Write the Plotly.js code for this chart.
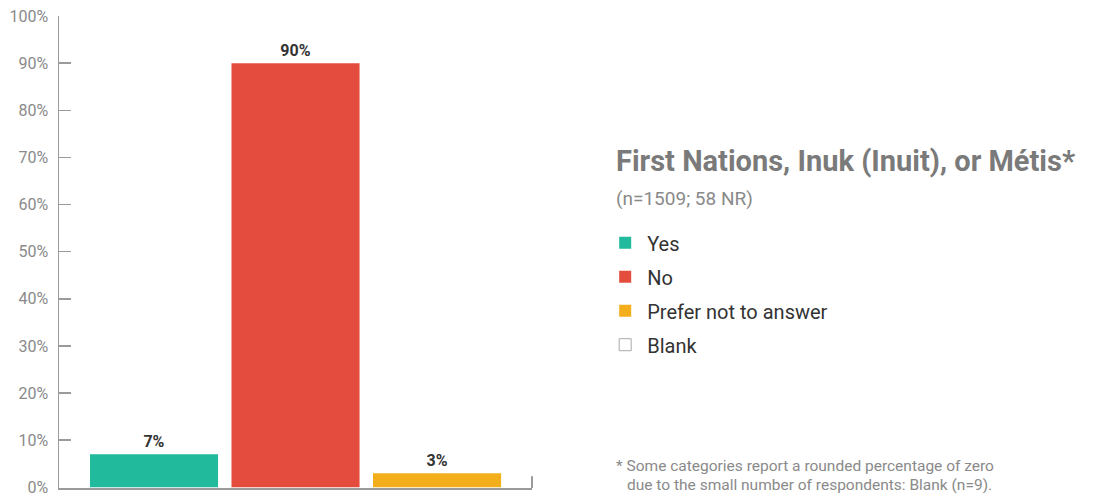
<!DOCTYPE html>
<html><head><meta charset="utf-8">
<script src="https://cdn.plot.ly/plotly-3.0.1.min.js"></script>
<style>html,body{margin:0;padding:0;background:#fff;}#chart{width:1094px;height:497px;}</style>
</head><body><div id="chart"></div>
<script>
const categories = ['Yes', 'No', 'Prefer not to answer', 'Blank'];
const values = [7, 90, 3, 0];
const tickValues = [0, 10, 20, 30, 40, 50, 60, 70, 80, 90, 100];
const tickLabels = ['0%', '10%', '20%', '30%', '40%', '50%', '60%', '70%', '80%', '90%', '100%'];
const colors = ['#21ba9c', '#e44d3d', '#f3ae1b', '#ffffff'];
const lineColors = ['#21ba9c', '#e44d3d', '#f3ae1b', '#aaaaaa'];
const titleText = 'First Nations, Inuk (Inuit), or Métis*';
const subtitleText = '(n=1509; 58 NR)';
const footLine1 = '* Some categories report a rounded percentage of zero';
const footLine2 = 'due to the small number of respondents: Blank (n=9).';

const FONT = 'Roboto, "Open Sans", sans-serif';
const traces = categories.map((c, i) => ({
  type: 'bar',
  name: c,
  x: [c],
  y: [values[i]],
  width: i === 3 ? 0.2 : 0.905,
  marker: {color: colors[i], line: {color: lineColors[i], width: i === 3 ? 1 : 0}},
  text: [values[i] + '%'],
  textposition: 'outside',
  textfont: {family: FONT, size: 16, color: '#333333', weight: 700},
  cliponaxis: true,
  legendgroup: 'g' + i,
  hoverinfo: 'skip'
}));

const layout = {
  width: 1094, height: 497,
  margin: {l: 59, r: 562, t: 16, b: 9, pad: 0},
  paper_bgcolor: '#ffffff', plot_bgcolor: '#ffffff',
  barmode: 'overlay',
  font: {family: FONT},
  xaxis: {
    type: 'category', categoryarray: categories, categoryorder: 'array',
    range: [-0.6714, 2.671], showticklabels: false, ticks: '',
    showgrid: false, zeroline: false,
    showline: true, linecolor: '#9a9a9a', linewidth: 2, fixedrange: true
  },
  yaxis: {
    range: [-0.15, 100], tickmode: 'array', tickvals: tickValues, ticktext: tickLabels,
    ticks: 'inside', ticklen: 12, tickcolor: '#9a9a9a', tickwidth: 1.5,
    showline: true, linecolor: '#9a9a9a', linewidth: 1.5,
    showgrid: false, zeroline: false,
    tickfont: {family: FONT, size: 16, color: '#8a8a8a'},
    ticklabelstandoff: 6
  },
  showlegend: true,
  legend: {
    x: 1.1505, xanchor: 'left', xref: 'paper',
    y: 0.561, yanchor: 'top', yref: 'paper',
    font: {family: FONT, size: 20, color: '#333333'},
    tracegroupgap: 5, traceorder: 'grouped', itemwidth: 34,
    bgcolor: 'rgba(0,0,0,0)', itemclick: false, itemdoubleclick: false
  },
  shapes: [{
    type: 'line', xref: 'paper', yref: 'paper',
    x0: 1, x1: 1, y0: 0, y1: 0.025,
    line: {color: '#9a9a9a', width: 2}
  }],
  annotations: [
    {text: titleText, xref: 'paper', yref: 'paper', x: 1.1734, y: 0.693, xanchor: 'left', yanchor: 'middle',
     showarrow: false, font: {family: FONT, size: 29, color: '#7a7a7a', weight: 700}},
    {text: subtitleText, xref: 'paper', yref: 'paper', x: 1.1734, y: 0.614, xanchor: 'left', yanchor: 'middle',
     showarrow: false, font: {family: FONT, size: 19, color: '#8a8a8a'}},
    {text: footLine1, xref: 'paper', yref: 'paper', x: 1.1734, y: 0.0466, xanchor: 'left', yanchor: 'middle',
     showarrow: false, font: {family: FONT, size: 15.5, color: '#8a8a8a'}},
    {text: footLine2, xref: 'paper', yref: 'paper', x: 1.1966, y: 0.006, xanchor: 'left', yanchor: 'middle',
     showarrow: false, font: {family: FONT, size: 15.5, color: '#8a8a8a'}}
  ]
};

Plotly.newPlot('chart', traces, layout, {displayModeBar: false, staticPlot: true});
</script></body></html>
